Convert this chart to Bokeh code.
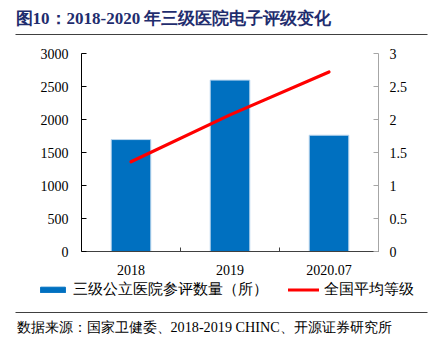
from bokeh.plotting import figure
from bokeh.layouts import column
from bokeh.models import (Range1d, LinearAxis, FixedTicker, Label, BoxAnnotation,
                          Legend, LegendItem, ColumnDataSource)
from bokeh.embed import file_html
from bokeh.resources import INLINE

# ---- data ----
years = ["2018", "2019", "2020.07"]
hospital_counts = [1696, 2597, 1762]
avg_grade = [1.36, 2.07, 2.72]
left_ticks = [0, 500, 1000, 1500, 2000, 2500, 3000]
right_ticks = [0, 0.5, 1, 1.5, 2, 2.5, 3]
right_labels = ["0", "0.5", "1", "1.5", "2", "2.5", "3"]
title_text = "图10：2018-2020 年三级医院电子评级变化"
source_text = "数据来源：国家卫健委、2018-2019 CHINC、开源证券研究所"
bar_label = "三级公立医院参评数量（所）"
line_label = "全国平均等级"

SERIF = "Liberation Serif"
BAR_COLOR = "#0070C0"
BAR_EDGE = "#BDD7EE"
LINE_COLOR = "#FF0000"
W = 435
H_TOTAL = 338
HEAD_H = 36
MAIN_H = 245
FH = H_TOTAL - HEAD_H - MAIN_H  # footer height


def blank_fig(h):
    f = figure(width=W, height=h, output_backend="svg", toolbar_location=None,
               x_range=Range1d(0, W), y_range=Range1d(0, h),
               min_border=0, x_axis_type=None, y_axis_type=None)
    f.frame_align = False
    f.outline_line_color = None
    f.xgrid.visible = False
    f.ygrid.visible = False
    f.border_fill_color = "white"
    f.background_fill_color = "white"
    return f


# ---- header ----
head = blank_fig(HEAD_H)
head.add_layout(Label(x=15, y=18, x_units="screen", y_units="screen", text=title_text,
                      text_font=SERIF, text_font_size="17px", text_font_style="bold",
                      text_color="#1F2D6E", text_baseline="middle", text_align="left"))
head.add_layout(BoxAnnotation(left=15, right=427, bottom=1.5, top=2.5,
                              fill_color="#404040", fill_alpha=1, line_color=None))

# ---- main chart ----
xs = [i + 0.5 for i in range(len(years))]
src = ColumnDataSource(dict(x=xs, count=hospital_counts, grade=avg_grade))

p = figure(width=W, height=MAIN_H, output_backend="svg", toolbar_location=None,
           x_range=Range1d(0, len(years)), y_range=Range1d(0, 3000),
           min_border_left=81, min_border_right=57, min_border_top=17, min_border_bottom=30)
p.frame_align = False
p.extra_y_ranges = {"right": Range1d(0, 3)}
p.outline_line_color = None
p.xgrid.visible = False
p.ygrid.visible = False
p.background_fill_color = "white"
p.border_fill_color = "white"

bars = p.vbar(x="x", top="count", width=0.4, source=src,
              fill_color=BAR_COLOR, line_color=BAR_EDGE, line_width=1)
ln = p.line(x="x", y="grade", source=src, y_range_name="right",
            line_color=LINE_COLOR, line_width=3.2, line_cap="round")

la = p.yaxis[0]
la.ticker = FixedTicker(ticks=left_ticks)
la.axis_line_color = "#000000"
la.major_tick_line_color = "#000000"
la.major_tick_in = 5
la.major_tick_out = 0
la.minor_tick_line_color = None
la.major_label_standoff = 13
la.major_label_text_font = SERIF
la.major_label_text_font_size = "14px"
la.major_label_text_color = "#000000"

ra = LinearAxis(y_range_name="right")
ra.ticker = FixedTicker(ticks=right_ticks)
ra.major_label_overrides = {t: s for t, s in zip(right_ticks, right_labels)}
ra.axis_line_color = "#A6A6A6"
ra.major_tick_line_color = "#A6A6A6"
ra.major_tick_in = 5
ra.major_tick_out = 0
ra.minor_tick_line_color = None
ra.major_label_standoff = 11
ra.major_label_text_font = SERIF
ra.major_label_text_font_size = "14px"
ra.major_label_text_color = "#000000"
p.add_layout(ra, "right")

xa = p.xaxis[0]
xa.ticker = FixedTicker(ticks=xs, minor_ticks=list(range(1, len(years) + 1)))
xa.major_label_overrides = {x: y for x, y in zip(xs, years)}
xa.axis_line_color = "#404040"
xa.major_tick_line_color = None
xa.major_tick_in = 0
xa.major_tick_out = 0
xa.minor_tick_line_color = "#404040"
xa.minor_tick_in = 4
xa.minor_tick_out = 0
xa.major_label_standoff = 13
xa.major_label_text_font = SERIF
xa.major_label_text_font_size = "14px"
xa.major_label_text_color = "#000000"

# ---- footer with legend ----
foot = blank_fig(FH)
# hidden stand-ins that share the chart's source, used only as legend keys
lb = foot.vbar(x="x", top="count", width=0.4, source=src,
               fill_color=BAR_COLOR, line_color=BAR_COLOR, visible=False)
ll = foot.line(x="x", y="grade", source=src,
               line_color=LINE_COLOR, line_width=3.2, line_cap="round", visible=False)
legend = Legend(items=[LegendItem(label=bar_label, renderers=[lb]),
                       LegendItem(label=line_label, renderers=[ll])],
                location=(37, H_TOTAL - 299), orientation="horizontal",
                padding=0, margin=0, spacing=11, border_line_color=None,
                background_fill_alpha=0, glyph_width=31, glyph_height=7,
                inactive_fill_alpha=0,
                label_standoff=5, label_height=14, label_width=204, label_text_font=SERIF,
                label_text_font_size="15px", label_text_color="#000000")
foot.add_layout(legend, "center")
foot.add_layout(BoxAnnotation(left=15, right=427,
                              bottom=H_TOTAL - 312.5, top=H_TOTAL - 311.5,
                              fill_color="#404040", fill_alpha=1, line_color=None))
foot.add_layout(Label(x=16, y=H_TOTAL - 326, x_units="screen", y_units="screen",
                      text=source_text, text_font=SERIF, text_font_size="14.2px",
                      text_color="#000000", text_baseline="middle", text_align="left"))

layout = column(head, p, foot, spacing=0)
open("out.html", "w").write(file_html(layout, INLINE))
